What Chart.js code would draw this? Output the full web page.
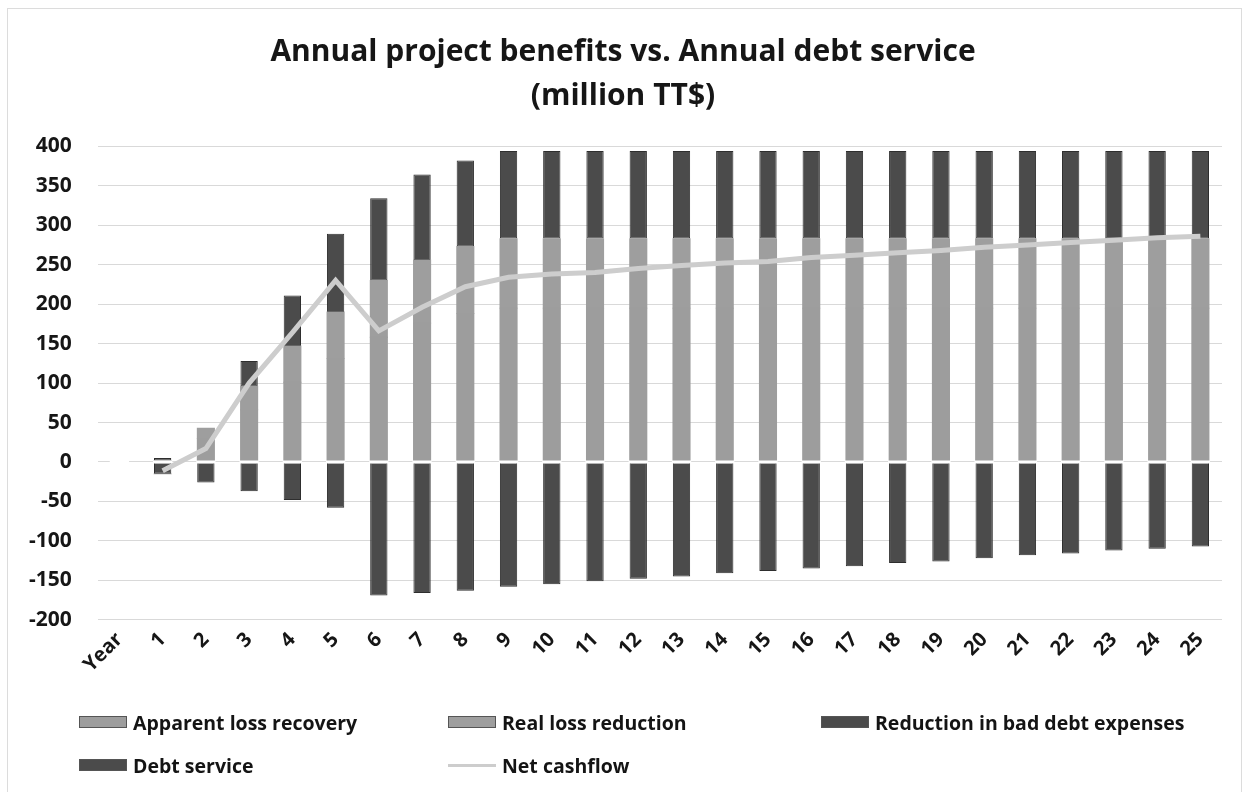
<!DOCTYPE html>
<html>
<head>
<meta charset="utf-8">
<title>Annual project benefits vs. Annual debt service</title>
<script src="https://cdn.jsdelivr.net/npm/chart.js@4"></script>
<style>
  html, body { margin: 0; padding: 0; background: #fff; }
  #wrap { position: relative; width: 1243px; height: 792px; }
  #frame { position: absolute; left: 7px; top: 8px; right: 1px; bottom: -2px; border: 1px solid #dcdcdc; pointer-events: none; }
  canvas { position: absolute; left: 0; top: 0; }
  #legend {
    position: absolute; left: 79px; top: 710px;
    display: grid; grid-template-columns: 369px 373px auto; row-gap: 19px;
    font: bold 19.5px "Open Sans", Lato, sans-serif; color: #141414;
  }
  #legend .item { display: flex; align-items: center; height: 24px; }
  #legend .swatch { width: 48px; height: 12px; margin-right: 6px; box-sizing: border-box; border: 1px solid #555; }
  #legend .line { width: 48px; height: 3px; margin-right: 6px; }
</style>
</head>
<body>
<div id="wrap">
  <canvas id="chart" width="1243" height="792"></canvas>
  <div id="frame"></div>
  <div id="legend"></div>
</div>
<script>
// annual benefits stacked above zero, debt service below, net cashflow as a line
const years = ['Year', '1', '2', '3', '4', '5', '6', '7', '8', '9', '10', '11', '12', '13',
  '14', '15', '16', '17', '18', '19', '20', '21', '22', '23', '24', '25'];

const apparentLoss = [null, 2, 30, 66, 101, 131, 158, 176, 188, 195, 195, 195, 195, 195,
  195, 195, 195, 195, 195, 195, 195, 195, 195, 195, 195, 195];
const realLoss = [null, 0, 13, 30, 46, 59, 72, 80, 85, 88, 88, 88, 88, 88,
  88, 88, 88, 88, 88, 88, 88, 88, 88, 88, 88, 88];
const badDebt = [null, 3, 0, 32, 64, 99, 104, 108, 109, 111, 111, 111, 111, 111,
  111, 111, 111, 111, 111, 111, 111, 111, 111, 111, 111, 111];
const debtService = [null, -15, -26, -37, -48, -58, -169, -166, -163, -158, -155, -151, -148, -145,
  -141, -138, -135, -132, -128, -126, -122, -118, -116, -112, -110, -107];
const netCashflow = [null, -11, 17, 100, 164, 230, 166, 196, 222, 234, 238, 240, 245, 249,
  252, 254, 259, 262, 265, 268, 272, 275, 278, 281, 284, 286];

const yTicks = [400, 350, 300, 250, 200, 150, 100, 50, 0, -50, -100, -150, -200];

const LIGHT = '#9d9d9d';
const LIGHT2 = '#9e9e9e';
const DARK = '#4b4b4b';
const EDGE = '#2e2e2e';
const NET = '#cdcdcd';
const FONT = '"Open Sans", Lato, sans-serif';

function barSet(label, data, colour, edge) {
  return {
    type: 'bar',
    label,
    data,
    backgroundColor: colour,
    borderColor: EDGE,
    borderWidth: edge ? 1 : 0,
    borderSkipped: false,
    // borderless segments overlap a little so no seam shows between them
    inflateAmount: edge ? 0 : 0.4,
    stack: 'money',
    order: 1,
    barPercentage: 0.4,
    categoryPercentage: 1,
  };
}

const datasets = [
  barSet('Debt service', debtService, DARK, true),
  barSet('Apparent loss recovery', apparentLoss, LIGHT, false),
  barSet('Real loss reduction', realLoss, LIGHT2, false),
  barSet('Reduction in bad debt expenses', badDebt, DARK, true),
  {
    type: 'line',
    label: 'Net cashflow',
    data: netCashflow,
    borderColor: NET,
    backgroundColor: NET,
    borderWidth: 5,
    pointRadius: 0,
    tension: 0,
    stack: 'net',
    order: 0,
  },
];

// white seam between the positive and negative halves of each bar
const zeroSeam = {
  id: 'zeroSeam',
  afterDatasetDraw(chart, args) {
    if (args.index !== 0) return;
    const y0 = chart.scales.y.getPixelForValue(0);
    const ctx = chart.ctx;
    ctx.save();
    ctx.fillStyle = '#ffffff';
    for (const bar of args.meta.data) {
      if (!bar || bar.width == null || isNaN(bar.x)) continue;
      ctx.fillRect(bar.x - bar.width / 2 - 1, y0 - 1.5, bar.width + 2, 3);
    }
    ctx.restore();
  },
};

const chart = new Chart(document.getElementById('chart'), {
  data: { labels: years, datasets },
  plugins: [zeroSeam],
  options: {
    responsive: false,
    animation: false,
    layout: { padding: { left: 3, right: 0, top: 24, bottom: 107 } },
    plugins: {
      legend: { display: false },
      tooltip: { enabled: false },
      title: {
        display: true,
        text: ['Annual project benefits vs. Annual debt service', '(million TT$)'],
        color: '#161616',
        font: { family: FONT, size: 30, weight: 'bold', lineHeight: 1.47 },
        padding: { top: 6, bottom: 28 },
      },
    },
    scales: {
      x: {
        stacked: true,
        grid: { display: false, drawTicks: false },
        border: { display: false },
        afterFit: (axis) => { axis.paddingLeft = 0; axis.paddingRight = 21; },
        ticks: {
          color: '#161616',
          font: { family: FONT, size: 20, weight: 'bold' },
          minRotation: 45,
          maxRotation: 45,
          autoSkip: false,
          padding: 8,
        },
      },
      y: {
        stacked: true,
        min: yTicks[yTicks.length - 1],
        max: yTicks[0],
        grid: { color: '#d9d9d9', lineWidth: 1, drawTicks: false },
        border: { display: false },
        afterBuildTicks: (axis) => { axis.ticks = yTicks.map((v) => ({ value: v })); },
        ticks: {
          color: '#161616',
          font: { family: FONT, size: 21, weight: 'bold' },
          padding: 26,
        },
      },
    },
  },
});

// legend laid out in three columns like the original sheet
const legend = document.getElementById('legend');
const legendItems = [
  { label: 'Apparent loss recovery', colour: LIGHT },
  { label: 'Real loss reduction', colour: LIGHT2 },
  { label: 'Reduction in bad debt expenses', colour: DARK },
  { label: 'Debt service', colour: DARK },
  { label: 'Net cashflow', colour: NET, line: true },
];
for (const it of legendItems) {
  const el = document.createElement('div');
  el.className = 'item';
  const sw = document.createElement('span');
  sw.className = it.line ? 'line' : 'swatch';
  sw.style.background = it.colour;
  el.appendChild(sw);
  el.appendChild(document.createTextNode(it.label));
  legend.appendChild(el);
}
</script>
</body>
</html>
